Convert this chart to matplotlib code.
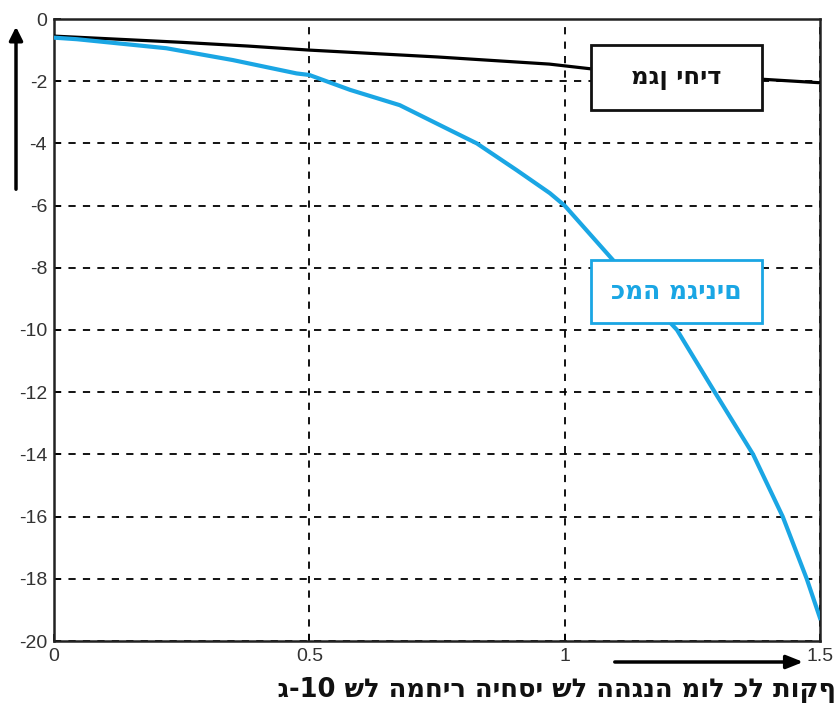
import matplotlib
matplotlib.use("Agg")
import matplotlib.pyplot as plt
from matplotlib.transforms import Bbox, TransformedBbox

# ---- data ----
single_x = [0.0, 0.25, 0.38, 0.5, 0.75, 0.97, 1.05, 1.25, 1.4, 1.5]
single_y = [-0.55, -0.75, -0.87, -1.0, -1.22, -1.45, -1.6, -1.8, -1.95, -2.05]

multi_x = [0.0, 0.045, 0.22, 0.35, 0.475, 0.5, 0.58, 0.677, 0.775, 0.828, 0.906,
           0.971, 1.0, 1.108, 1.22, 1.294, 1.369, 1.427, 1.474, 1.5]
multi_y = [-0.6, -0.65, -0.94, -1.32, -1.75, -1.8, -2.28, -2.77, -3.57, -4.0, -4.86,
           -5.6, -6.0, -8.0, -10.0, -12.0, -14.0, -16.0, -18.0, -19.26]

x_ticks = [0, 0.5, 1, 1.5]
x_tick_labels = ["0", "0.5", "1", "1.5"]
y_ticks = [0, -2, -4, -6, -8, -10, -12, -14, -16, -18, -20]
y_tick_labels = ["0", "-2", "-4", "-6", "-8", "-10", "-12", "-14", "-16", "-18", "-20"]

label_single = "מגן יחיד"
label_multi = "כמה מגינים"
caption = "לוג-10 של המחיר היחסי של ההגנה מול כל תוקף"

BLUE = "#1AA6E4"
HEB = ["DejaVu Sans"]

fig = plt.figure(figsize=(8.38, 7.12), dpi=100)
fig.patch.set_facecolor("white")
ax = fig.add_axes([54 / 838, 1 - 641 / 712, (820 - 54) / 838, (641 - 19) / 712])

ax.plot(single_x, single_y, color="black", lw=2.3, zorder=3)
ax.plot(multi_x, multi_y, color=BLUE, lw=3.0, zorder=3)

ax.set_xlim(0, 1.5)
ax.set_ylim(-20, 0)
ax.set_xticks(x_ticks)
ax.set_xticklabels(x_tick_labels)
ax.set_yticks(y_ticks)
ax.set_yticklabels(y_tick_labels)
ax.grid(True, color="black", linestyle=(0, (4, 4)), linewidth=1.3)
for s in ax.spines.values():
    s.set_linewidth(1.8)
    s.set_color("#222222")
ax.tick_params(direction="in", length=5, width=1.2, labelsize=14,
               labelcolor="#333333", pad=5)
for lbl in ax.get_xticklabels() + ax.get_yticklabels():
    lbl.set_family(["Liberation Sans Narrow", "Liberation Sans", "DejaVu Sans"])


def box(x0, y0, x1, y1, ec, text, tc, size):
    r = plt.Rectangle((x0 / 838, 1 - y1 / 712), (x1 - x0) / 838, (y1 - y0) / 712,
                      transform=fig.transFigure, facecolor="white", edgecolor=ec,
                      linewidth=2.0, zorder=5)
    fig.add_artist(r)
    fig.text((x0 + x1) / 2 / 838, 1 - (y0 + y1) / 2 / 712, text, color=tc,
             fontsize=size, fontweight="bold", ha="center", va="center",
             family=HEB, zorder=6)


box(591, 45, 762, 110, "#111111", label_single, "#111111", 17.5)
box(591, 260, 762, 323, BLUE, label_multi, BLUE, 18)

fig.add_artist(matplotlib.patches.FancyArrowPatch(
    (16 / 838, 1 - 192 / 712), (16 / 838, 1 - 24 / 712), transform=fig.transFigure,
    arrowstyle="-|>,head_length=8,head_width=4", color="black", lw=2.5,
    mutation_scale=1))
fig.add_artist(matplotlib.patches.FancyArrowPatch(
    (612 / 838, 1 - 662 / 712), (806 / 838, 1 - 662 / 712), transform=fig.transFigure,
    arrowstyle="-|>,head_length=10,head_width=4", color="black", lw=2.5,
    mutation_scale=1))

cap = fig.text(836 / 838, 1 - 690 / 712, caption, fontsize=18.5, fontweight="bold",
               ha="right", va="center", family=HEB, color="#111111")
cap.set_clip_on(True)
cap.set_clip_box(TransformedBbox(Bbox([[277 / 838, 0], [1, 1]]), fig.transFigure))

fig.savefig("out.png", dpi=100, facecolor="white")
